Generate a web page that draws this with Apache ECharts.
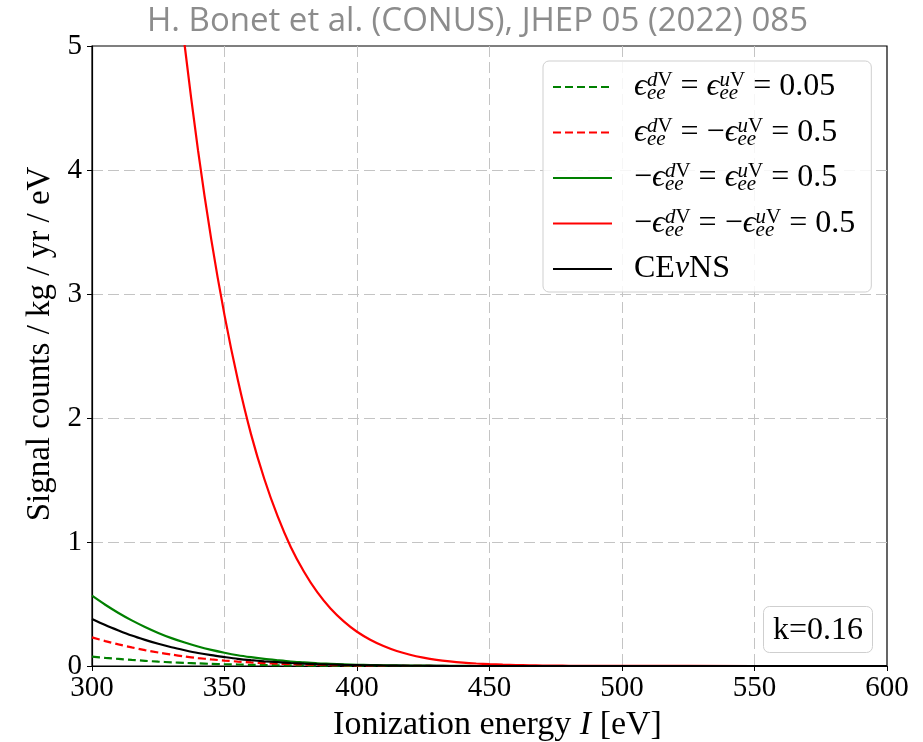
<!DOCTYPE html>
<html>
<head>
<meta charset="utf-8">
<script src="https://cdn.jsdelivr.net/npm/echarts@6/dist/echarts.min.js"></script>
<style>html,body{margin:0;padding:0;background:#fff}#c{width:923px;height:742px}</style>
</head>
<body>
<div id="c"></div>
<script>
// ---- data ----
const energies = [300,305,310,315,320,325,330,335,340,345,350,355,360,365,370,375,380,385,390,395,400,405,410,415,420,425,430,435,440,445,450,455,460,465,470,475,480,500,550,600];
const greenDashed = [0.075,0.065,0.057,0.049,0.042,0.035,0.030,0.025,0.021,0.017,0.014,0.012,0.009,0.008,0.006,0.005,0.004,0.003,0.002,0.002,0.001,0.001,0,0,0,0,0,0,0,0,0,0,0,0,0,0,0,0,0,0];
const redDashed = [0.231,0.201,0.174,0.150,0.128,0.109,0.092,0.077,0.064,0.053,0.044,0.036,0.029,0.023,0.019,0.015,0.012,0.009,0.007,0.006,0.004,0.003,0.002,0.002,0.001,0.001,0,0,0,0,0,0,0,0,0,0,0,0,0,0];
const greenSolid = [0.567,0.494,0.428,0.368,0.315,0.267,0.225,0.189,0.157,0.130,0.107,0.087,0.071,0.057,0.046,0.036,0.029,0.022,0.018,0.014,0.010,0.008,0.006,0.005,0.003,0.003,0.002,0.001,0.001,0,0,0,0,0,0,0,0,0,0,0];
const redSolid = [15.01,13.08,11.33,9.74,8.33,7.07,5.96,5.00,4.16,3.44,2.83,2.31,1.87,1.51,1.21,0.96,0.76,0.595,0.464,0.360,0.276,0.212,0.161,0.121,0.091,0.068,0.050,0.037,0.027,0.020,0.015,0.011,0.008,0.006,0.004,0.003,0.002,0.001,0,0];
const cevns = [0.380,0.331,0.287,0.246,0.211,0.179,0.151,0.127,0.105,0.087,0.072,0.058,0.047,0.038,0.031,0.024,0.019,0.015,0.012,0.009,0.007,0.005,0.004,0.003,0.002,0.002,0.001,0,0,0,0,0,0,0,0,0,0,0,0,0];
const xTicks = [300,350,400,450,500,550,600];
const yTicks = [0,1,2,3,4,5];
const seriesNames = ['ε_ee^dV = ε_ee^uV = 0.05','ε_ee^dV = −ε_ee^uV = 0.5','−ε_ee^dV = ε_ee^uV = 0.5','−ε_ee^dV = −ε_ee^uV = 0.5','CEνNS'];
const legendRich = [
  '{g|ϵ}{sb|ee}{si|d}{sp|V}{t| = }{g|ϵ}{sb|ee}{si|u}{sp|V}{t| = 0.05}',
  '{g|ϵ}{sb|ee}{si|d}{sp|V}{t| = −}{g|ϵ}{sb|ee}{si|u}{sp|V}{t| = 0.5}',
  '{t|−}{g|ϵ}{sb|ee}{si|d}{sp|V}{t| = }{g|ϵ}{sb|ee}{si|u}{sp|V}{t| = 0.5}',
  '{t|−}{g|ϵ}{sb|ee}{si|d}{sp|V}{t| = −}{g|ϵ}{sb|ee}{si|u}{sp|V}{t| = 0.5}',
  '{t|CE}{g|ν}{t|NS}'
];
const titleText = 'H. Bonet et al. (CONUS), JHEP 05 (2022) 085';
const kLabel = 'k=0.16';

const serif = 'Liberation Serif';
const seriesDefs = [
  {vals: greenDashed, color: '#008000', type: [8,4]},
  {vals: redDashed, color: '#ff0000', type: [8,4]},
  {vals: greenSolid, color: '#008000', type: 'solid'},
  {vals: redSolid, color: '#ff0000', type: 'solid'},
  {vals: cevns, color: '#000000', type: 'solid'}
];

const chart = echarts.init(document.getElementById('c'));
const gridStyle = {show: true, showMinLine: false, showMaxLine: false, lineStyle: {color: '#c4c4c4', width: 1, type: [11,5]}};
const supBase = {fontFamily: serif, fontSize: 21, color: '#000', lineHeight: 20, verticalAlign: 'top'};
chart.setOption({
  animation: false,
  backgroundColor: '#fff',
  title: {
    text: titleText, left: 142, top: 0,
    textStyle: {fontFamily: 'Open Sans', fontSize: 33, fontWeight: 'normal', color: '#8c8c8c'}
  },
  grid: {left: 92, right: 36, top: 46, bottom: 76, show: true, borderColor: '#000', borderWidth: 1.2, backgroundColor: 'transparent', outerBoundsMode: 'none', containLabel: false},
  xAxis: {
    type: 'value', min: 300, max: 600, interval: 50,
    name: '{n|Ionization energy }{i|I}{n| [eV]}', nameLocation: 'middle', nameGap: 33,
    nameTextStyle: {padding: [0, 0, 0, 16], rich: {n: {fontFamily: serif, fontSize: 34, color: '#000'}, i: {fontFamily: serif, fontStyle: 'italic', fontSize: 34, color: '#000'}}},
    axisLine: {show: true, onZero: false, lineStyle: {color: '#000', width: 1.2}},
    axisTick: {show: true, length: 5, lineStyle: {color: '#000'}},
    axisLabel: {fontFamily: serif, fontSize: 29, color: '#000', margin: 8, customValues: xTicks},
    splitLine: gridStyle
  },
  yAxis: {
    type: 'value', min: 0, max: 5, interval: 1,
    name: 'Signal counts / kg / yr / eV', nameLocation: 'middle', nameGap: 28,
    nameTextStyle: {fontFamily: serif, fontSize: 33, color: '#000', padding: [0, 0, 0, 24]},
    axisLine: {show: true, lineStyle: {color: '#000', width: 1.2}},
    axisTick: {show: true, length: 5, lineStyle: {color: '#000'}},
    axisLabel: {fontFamily: serif, fontSize: 29, color: '#000', margin: 10},
    splitLine: gridStyle
  },
  legend: {
    left: 543, top: 61, orient: 'vertical',
    itemWidth: 59, itemHeight: 14, itemGap: 11.5,
    padding: [9, 16, 6, 9],
    backgroundColor: 'rgba(255,255,255,0.85)', borderColor: '#cfcfcf', borderWidth: 1, borderRadius: 6,
    itemStyle: {opacity: 0},
    data: seriesNames,
    formatter: function (name) { return legendRich[seriesNames.indexOf(name)]; },
    textStyle: {
      padding: [0,0,0,17], lineHeight: 34,
      rich: {
        g: {fontFamily: serif, fontStyle: 'italic', fontSize: 32, color: '#000', lineHeight: 34},
        t: {fontFamily: serif, fontSize: 32, color: '#000', lineHeight: 34},
        si: Object.assign({}, supBase, {fontStyle: 'italic'}),
        sp: Object.assign({}, supBase),
        sb: {fontFamily: serif, fontStyle: 'italic', fontSize: 21, color: '#000', lineHeight: 20, verticalAlign: 'bottom', width: 0}
      }
    },
    z: 10
  },
  graphic: [{
    type: 'group', left: 763, top: 606, z: 10,
    children: [
      {type: 'rect', shape: {x: 0, y: 0, width: 109, height: 46, r: 6}, style: {fill: 'rgba(255,255,255,0.85)', stroke: '#cfcfcf', lineWidth: 1}},
      {type: 'text', x: 54.5, y: 24, style: {text: kLabel, fontFamily: serif, fontSize: 32, fill: '#000', align: 'center', verticalAlign: 'middle'}}
    ]
  }],
  series: seriesDefs.map((d, i) => ({
    name: seriesNames[i], type: 'line', showSymbol: false, symbol: 'none', smooth: 0.3, clip: true,
    data: energies.map((x, j) => [x, d.vals[j]]),
    lineStyle: {color: d.color, width: 2.2, type: d.type},
    itemStyle: {color: d.color},
    z: 2 + i
  }))
});
</script>
</body>
</html>
